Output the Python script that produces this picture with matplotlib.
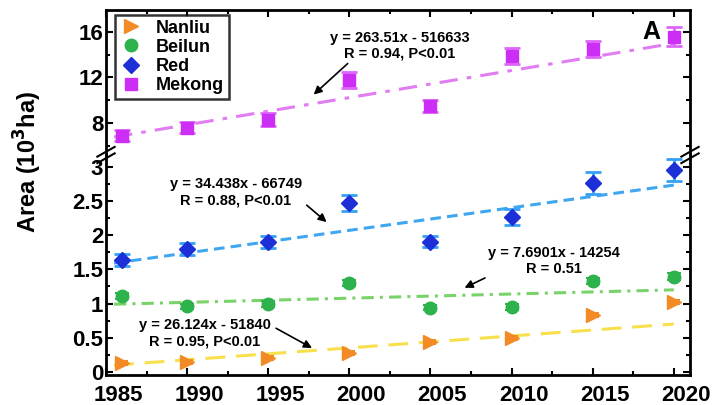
import numpy as np
import matplotlib
matplotlib.use('Agg')
import matplotlib.pyplot as plt
from matplotlib.lines import Line2D
from matplotlib.transforms import ScaledTranslation

plt.rcParams['font.family'] = ['Liberation Sans', 'DejaVu Sans']
plt.rcParams['font.weight'] = 'bold'

# data (10^3 ha)
years = [1986, 1990, 1995, 2000, 2005, 2010, 2015, 2020]
nanliu = [0.13, 0.15, 0.20, 0.28, 0.44, 0.50, 0.83, 1.02]
beilun = [1.11, 0.96, 0.99, 1.30, 0.94, 0.95, 1.33, 1.39]
red = [1.64, 1.80, 1.90, 2.47, 1.90, 2.26, 2.76, 2.95]
mekong = [6.9, 7.6, 8.3, 11.8, 9.5, 13.9, 14.5, 15.6]
nanliu_err = [0.03, 0.03, 0.03, 0.03, 0.03, 0.03, 0.03, 0.03]
beilun_err = [0.05, 0.04, 0.04, 0.05, 0.04, 0.04, 0.05, 0.05]
red_err = [0.09, 0.09, 0.09, 0.12, 0.08, 0.12, 0.16, 0.16]
mekong_err = [0.5, 0.5, 0.55, 0.7, 0.55, 0.7, 0.7, 0.8]

# fitted trend lines as drawn (value at start / end year)
trend_years = [1985.5, 2020]
nanliu_trend = [0.10, 0.70]
beilun_trend = [0.99, 1.20]
red_trend = [1.59, 2.73]
mekong_trend = [6.77, 15.0]

names = ['Nanliu', 'Beilun', 'Red', 'Mekong']
markers = ['>', 'o', 'D', 's']
colors = ['#f28a26', '#2eb24c', '#1d2fd6', '#cc2ef5']
msizes = [10, 9, 8, 9]

fig = plt.figure(figsize=(7.22, 4.05), dpi=100)
ax_top = fig.add_axes([0.1468, 0.6173, 0.8089, 0.358])
ax = fig.add_axes([0.1468, 0.0741, 0.8089, 0.5432], sharex=ax_top)

# lower panel
ax.plot(trend_years, nanliu_trend, color='#f7e04b', lw=2.2, dashes=(6.5, 3.5))
ax.plot(trend_years, beilun_trend, color='#7ad36a', lw=2.2, dashes=(4, 2, 1, 2))
ax.plot(trend_years, red_trend, color='#3fa6f2', lw=2.2, dashes=(3.5, 2))
ax.errorbar(years, nanliu, yerr=nanliu_err, fmt='>', ms=10, color=colors[0],
            ecolor=colors[0], capsize=4, elinewidth=1.5, capthick=1.5)
ax.errorbar(years, beilun, yerr=beilun_err, fmt='o', ms=9, color=colors[1],
            ecolor=colors[1], capsize=5, elinewidth=1.5, capthick=1.5)
ax.errorbar(years, red, yerr=red_err, fmt='D', ms=8, color=colors[2],
            ecolor='#35a0f5', capsize=6, elinewidth=2, capthick=2)

# upper panel
ax_top.plot(trend_years, mekong_trend, color='#e27cf2', lw=2.2, dashes=(6, 3, 1.5, 3))
ax_top.errorbar(years, mekong, yerr=mekong_err, fmt='s', ms=9, color=colors[3],
                ecolor='#dd66fa', capsize=6, elinewidth=2, capthick=2)

ax.set_xlim(1985, 2021)
ax.set_ylim(-0.044, 3.17)
ax_top.set_ylim(5.19, 17.93)

ax.set_xticks(np.arange(1985, 2021, 5))
ax.set_xticks(np.arange(1987.5, 2021, 5), minor=True)
ax.set_yticks(np.arange(0, 3.01, 0.5))
ax.set_yticklabels(['0', '0.5', '1', '1.5', '2', '2.5', '3'])
ax.set_yticks(np.arange(0.25, 3.1, 0.5), minor=True)
ax_top.set_yticks([8, 12, 16])
ax_top.set_yticks([6, 10, 14], minor=True)

for a in (ax, ax_top):
    a.tick_params(which='both', direction='in', right=True, top=True, width=1.5,
                  labelsize=16)
    a.tick_params(which='major', length=5)
    a.tick_params(which='minor', length=3)
    for s in a.spines.values():
        s.set_linewidth(2)
ax.spines['top'].set_visible(False)
ax_top.spines['bottom'].set_visible(False)
ax.tick_params(top=False, which='both')
ax.tick_params(axis='x', pad=7)
ax.tick_params(axis='y', pad=2)
ax_top.tick_params(axis='y', pad=2)
ax_top.tick_params(bottom=False, labelbottom=False, which='both')

# tick labels sit a bit right of their ticks in the original
shift = ScaledTranslation(0.12, 0, fig.dpi_scale_trans)
for lab in ax.get_xticklabels():
    lab.set_transform(lab.get_transform() + shift)

# break marks
for xf in (0.1468, 0.9557):
    for dy in (-0.008, 0.008):
        fig.add_artist(Line2D([xf - 0.012, xf + 0.012],
                              [0.6173 + dy - 0.012, 0.6173 + dy + 0.012],
                              color='black', lw=1.5))

fig.text(0.038, 0.6, 'Area (10$^3$ha)', rotation=90, fontsize=17,
         fontweight='bold', ha='center', va='center')

# legend (markers only)
handles = [Line2D([], [], ls='none', marker=m, ms=s, color=c)
           for m, s, c in zip(markers, msizes, colors)]
leg = ax_top.legend(handles, names, loc='upper left', fontsize=13,
                    frameon=True, fancybox=False, edgecolor='black',
                    borderpad=0.25, labelspacing=0.12, handletextpad=0.8,
                    handlelength=1.2, borderaxespad=0, bbox_to_anchor=(0.016, 0.965))
leg.get_frame().set_linewidth(1.8)

# regression notes
arrow = dict(arrowstyle='-|>', color='black', lw=1.2, mutation_scale=12)
fs = 10.5
ax_top.annotate('y = 263.51x - 516633\nR = 0.94, P<0.01', xy=(1997.8, 10.5),
                xytext=(2003.1, 14.8), ha='center', va='center', fontsize=fs,
                fontweight='bold', arrowprops=dict(arrow, shrinkA=0, shrinkB=0,
                                                   relpos=(0.15, 0)))
ax.annotate('y = 34.438x - 66749\nR = 0.88, P<0.01', xy=(1998.6, 2.19),
            xytext=(1993.0, 2.63), ha='center', va='center', fontsize=fs,
            fontweight='bold', arrowprops=dict(arrow, shrinkA=2, shrinkB=0,
                                               relpos=(1.0, 0.2)))
ax.annotate('y = 7.6901x - 14254\nR = 0.51', xy=(2007.1, 1.23),
            xytext=(2012.6, 1.62), ha='center', va='center', fontsize=fs,
            fontweight='bold', arrowprops=dict(arrow, shrinkA=0, shrinkB=0,
                                               relpos=(0.15, 0.3)))
ax.annotate('y = 26.124x - 51840\nR = 0.95, P<0.01', xy=(1997.7, 0.35),
            xytext=(1991.1, 0.57), ha='center', va='center', fontsize=fs,
            fontweight='bold', arrowprops=dict(arrow, shrinkA=2, shrinkB=0,
                                               relpos=(1.0, 0.75)))
ax_top.text(2018.6, 16.0, 'A', fontsize=18, fontweight='bold',
            ha='center', va='center')

fig.savefig('out.png', dpi=100)
